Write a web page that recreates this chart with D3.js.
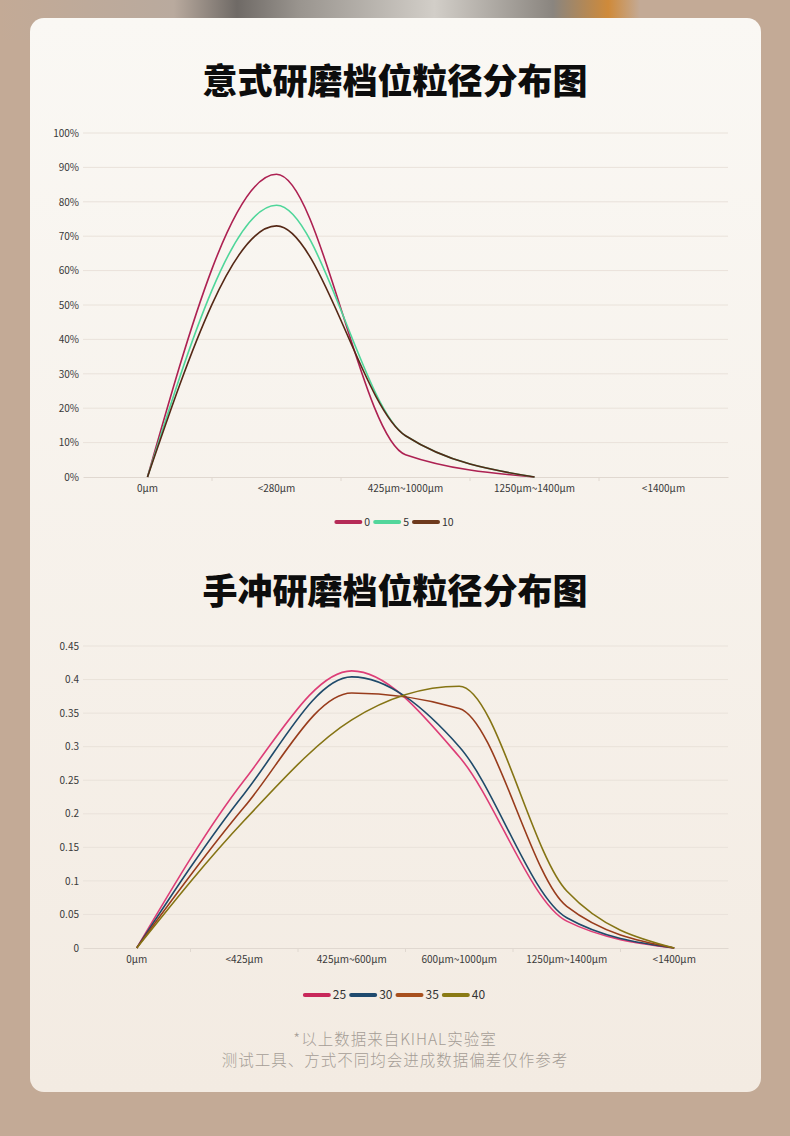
<!DOCTYPE html>
<html>
<head>
<meta charset="utf-8">
<script src="https://cdn.jsdelivr.net/npm/d3@7"></script>
<style>
  html, body { margin: 0; padding: 0; background: #c3aa96; }
  svg { display: block; font-family: "Noto Sans CJK SC", "Noto Sans", sans-serif; }
</style>
</head>
<body>
<svg id="page" width="790" height="1136"></svg>
<script>
// ── Data ────────────────────────────────────────────────────────────
const espressoCats   = ["0μm", "<280μm", "425μm~1000μm", "1250μm~1400μm", "<1400μm"];
const espressoNames  = ["0", "5", "10"];
const espressoColors = ["#ad2152", "#4fd69a", "#552816"];
const espressoLegend = ["#b52b57", "#52d69b", "#6e3a1d"];
const espresso0  = [0, 0.88, 0.065, 0, null];
const espresso5  = [0, 0.79, 0.12, 0, null];
const espresso10 = [0, 0.73, 0.12, 0, null];
const espressoTicks = [0, 0.1, 0.2, 0.3, 0.4, 0.5, 0.6, 0.7, 0.8, 0.9, 1];

const pourCats   = ["0μm", "<425μm", "425μm~600μm", "600μm~1000μm", "1250μm~1400μm", "<1400μm"];
const pourNames  = ["25", "30", "35", "40"];
const pourColors = ["#dd3d77", "#1f4a6a", "#983c1c", "#857414"];
const pourLegend = ["#c8285a", "#1f4a6e", "#a8501e", "#8a7a14"];
const pour25 = [0, 0.25, 0.413, 0.285, 0.04, 0];
const pour30 = [0, 0.23, 0.404, 0.30, 0.045, 0];
const pour35 = [0, 0.21, 0.38, 0.357, 0.062, 0];
const pour40 = [0, 0.19, 0.34, 0.39, 0.085, 0];
const pourTicks = [0, 0.05, 0.1, 0.15, 0.2, 0.25, 0.3, 0.35, 0.4, 0.45];

const titles = ["意式研磨档位粒径分布图", "手冲研磨档位粒径分布图"];
const notes  = ["*以上数据来自KIHAL实验室", "测试工具、方式不同均会进成数据偏差仅作参考"];

// ── Page background ─────────────────────────────────────────────────
const svg = d3.select("#page");
const defs = svg.append("defs");

const cardGrad = defs.append("linearGradient").attr("id", "card").attr("x1", 0).attr("y1", 0).attr("x2", 0).attr("y2", 1);
cardGrad.append("stop").attr("offset", "0%").attr("stop-color", "#faf8f4");
cardGrad.append("stop").attr("offset", "100%").attr("stop-color", "#f3ebe2");

const topGrad = defs.append("linearGradient").attr("id", "metal").attr("x1", 0).attr("y1", 0).attr("x2", 1).attr("y2", 0);
[["0%", "#c3aa96"], ["22%", "#b9aa9e"], ["30%", "#6f6a66"], ["38%", "#9a958f"], ["55%", "#d2cec8"], ["70%", "#8a857f"], ["77%", "#cf8a3a"], ["81%", "#c3aa96"]]
  .forEach(([o, c]) => topGrad.append("stop").attr("offset", o).attr("stop-color", c));

svg.append("rect").attr("width", 790).attr("height", 1136).attr("fill", "#c3aa96");
svg.append("rect").attr("x", 0).attr("y", 0).attr("width", 790).attr("height", 40).attr("fill", "url(#metal)");
svg.append("rect").attr("x", 30).attr("y", 18).attr("width", 731).attr("height", 1074)
  .attr("rx", 14).attr("fill", "url(#card)");

// ── Chart helper ────────────────────────────────────────────────────
function drawChart(cfg) {
  const g = svg.append("g");
  const x = d3.scaleBand().domain(cfg.cats).range([83, 728]).padding(0);
  const y = d3.scaleLinear().domain(cfg.domain).range([cfg.bottom, cfg.top]);
  const cx = c => x(c) + x.bandwidth() / 2;

  // title
  svg.append("text")
    .attr("x", 395).attr("y", cfg.titleY)
    .attr("text-anchor", "middle")
    .attr("font-size", 35).attr("font-weight", 900).attr("fill", "#0d0d0d")
    .text(cfg.title);

  // grid
  g.append("g").selectAll("line")
    .data(cfg.ticks.slice(1))
    .join("line")
    .attr("x1", 83).attr("x2", 728)
    .attr("y1", d => y(d)).attr("y2", d => y(d))
    .attr("stroke", "#e9e2da").attr("stroke-width", 1);

  // y axis
  const yAxis = g.append("g")
    .attr("transform", "translate(79,0)")
    .call(d3.axisLeft(y).tickValues(cfg.ticks).tickFormat(cfg.fmt).tickSize(0).tickPadding(0));
  yAxis.select(".domain").remove();
  yAxis.selectAll("text").attr("font-size", 10).attr("fill", "#3a3a3a")
    .attr("font-family", "'Noto Sans CJK SC', sans-serif");

  // x axis
  const xAxis = g.append("g")
    .attr("transform", `translate(0,${cfg.bottom})`)
    .call(d3.axisBottom(x).tickSize(0).tickPadding(8));
  xAxis.select(".domain").attr("stroke", "#e0d8d0");
  xAxis.selectAll("text").attr("font-size", 10).attr("fill", "#3a3a3a")
    .attr("font-family", "'Noto Sans CJK SC', sans-serif");
  g.append("g").selectAll("line")
    .data(cfg.cats.slice(1))
    .join("line")
    .attr("x1", d => x(d)).attr("x2", d => x(d))
    .attr("y1", cfg.bottom).attr("y2", cfg.bottom + 4)
    .attr("stroke", "#e0d8d0");

  // lines
  const line = d3.line()
    .defined(d => d.v != null)
    .x(d => cx(d.c))
    .y(d => y(d.v))
    .curve(d3.curveMonotoneX);

  cfg.series.forEach((vals, i) => {
    g.append("path")
      .datum(vals.map((v, j) => ({ c: cfg.cats[j], v })))
      .attr("d", line)
      .attr("fill", "none")
      .attr("stroke", cfg.colors[i])
      .attr("stroke-width", 1.6);
  });

  // legend
  const lg = g.append("g");
  let off = 0;
  cfg.names.forEach((n, i) => {
    const it = lg.append("g").attr("transform", `translate(${off},0)`);
    it.append("line").attr("x1", 0).attr("x2", 24).attr("y1", 0).attr("y2", 0)
      .attr("stroke", cfg.legend[i]).attr("stroke-width", 4).attr("stroke-linecap", "round");
    const t = it.append("text").attr("x", 28).attr("y", 4)
      .attr("font-size", cfg.legendFont).attr("fill", "#333").text(n);
    off += 28 + t.node().getComputedTextLength() + 5;
  });
  const total = off - 5;
  lg.attr("transform", `translate(${395 - total / 2},${cfg.legendY})`);
}

drawChart({
  title: titles[0], titleY: 94,
  cats: espressoCats, names: espressoNames,
  colors: espressoColors, legend: espressoLegend,
  series: [espresso0, espresso5, espresso10],
  domain: [0, 1], ticks: espressoTicks, fmt: d3.format(".0%"),
  top: 133, bottom: 477, legendY: 522, legendFont: 10.5
});

drawChart({
  title: titles[1], titleY: 604,
  cats: pourCats, names: pourNames,
  colors: pourColors, legend: pourLegend,
  series: [pour25, pour30, pour35, pour40],
  domain: [0, 0.45], ticks: pourTicks, fmt: d => String(+d.toFixed(2)),
  top: 646, bottom: 948, legendY: 995, legendFont: 12
});

// ── Footer note ─────────────────────────────────────────────────────
svg.append("g").selectAll("text")
  .data(notes)
  .join("text")
  .attr("x", 395).attr("y", (d, i) => 1045 + i * 21)
  .attr("text-anchor", "middle")
  .attr("font-size", 15.5).attr("letter-spacing", 1)
  .attr("font-weight", 300).attr("fill", "#a59d96")
  .text(d => d);
</script>
</body>
</html>
